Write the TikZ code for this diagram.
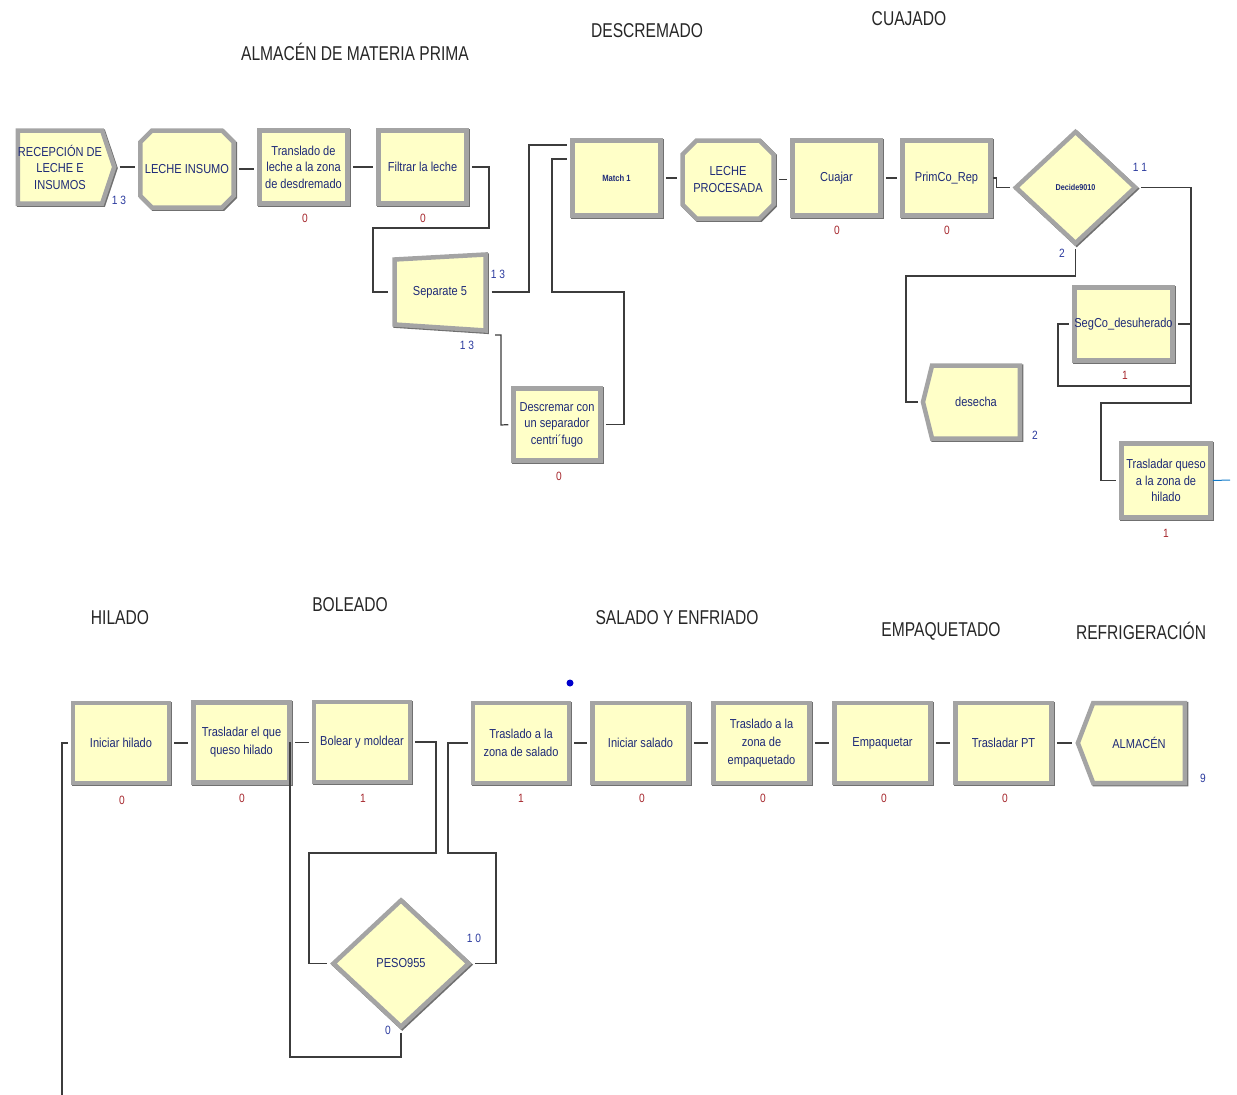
\documentclass[tikz,border=0pt]{standalone}
\usepackage{fontspec}
\setmainfont{Liberation Sans}[FakeStretch=0.85]
\newfontfamily\titlef{Liberation Sans}[FakeStretch=0.78]
\usetikzlibrary{shapes.geometric,shapes.misc,shapes.symbols,calc}
\definecolor{boxy}{HTML}{FFFFC8}
\definecolor{bevel}{HTML}{A4A4A4}
\definecolor{bevdark}{HTML}{707070}
\definecolor{navytxt}{HTML}{1E2A78}
\definecolor{cntred}{HTML}{A5262C}
\definecolor{cntblue}{HTML}{2B3A9E}
\definecolor{wire}{HTML}{3C3C3C}
\begin{document}
\begin{tikzpicture}[x=1pt,y=-1pt,
  mod/.style={fill=boxy, draw=bevel, line width=4.5pt, text=navytxt,
    preaction={draw=bevdark, line width=4.5pt, transform canvas={xshift=1.2pt,yshift=-1.2pt}},
    font=\fontsize{13}{16.5}\selectfont, align=center, inner sep=0pt},
  procT/.style={mod, rectangle, minimum width=88pt, minimum height=73pt},
  procB/.style={mod, rectangle, minimum width=96pt, minimum height=80pt, font=\fontsize{13}{18}\selectfont},
  chamf/.style={mod, chamfered rectangle, chamfered rectangle xsep=7pt, chamfered rectangle ysep=7pt},
  createsh/.style={mod, signal, signal to=east, signal pointer angle=143},
  disposesh/.style={mod, signal, signal to=west},
  decsh/.style={mod, diamond, inner sep=0pt},
  title/.style={font=\titlef\fontsize{20}{24}\selectfont, text=black!85},
  cnt/.style={font=\fontsize{12}{14}\selectfont, inner sep=0pt},
  cr/.style={cnt, text=cntred},
  cb/.style={cnt, text=cntblue},
  conn/.style={draw=wire, line width=1.2pt, shorten >=3pt, shorten <=3pt}]
\useasboundingbox (0,0) rectangle (1237,1095);

% titles
\node[title] (t1) at (355,52) {ALMACÉN DE MATERIA PRIMA};
\node[title] (t2) at (647,31) {DESCREMADO};
\node[title] (t3) at (909,19) {CUAJADO};
\node[title] (t4) at (120,618) {HILADO};
\node[title] (t5) at (350,605) {BOLEADO};
\node[title] (t6) at (677,618) {SALADO Y ENFRIADO};
\node[title] (t7) at (941,631) {EMPAQUETADO};
\node[title] (t8) at (1141,631) {REFRIGERACIÓN};

% top row
\node[createsh, minimum width=90pt, minimum height=73pt] (rec) at (60,167) {RECEPCIÓN DE\\LECHE E\\INSUMOS};
\node[chamf, minimum width=91pt, minimum height=77pt] (insumo) at (187,169) {LECHE INSUMO};
\node[procT] (transl) at (303.5,167) {Translado de\\leche a la zona\\de desdremado};
\node[procT] (filtrar) at (422.5,167) {Filtrar la leche};
\draw[fill=boxy, draw=bevel, line width=4.5pt, line join=miter,
    preaction={draw=bevdark, line width=4.5pt, transform canvas={xshift=1.2pt,yshift=-1.2pt}}]
  (394.5,259.5) -- (485.5,254.5) -- (485.5,330.5) -- (394.5,324.5) -- cycle;
\node[minimum width=97pt, minimum height=76pt, inner sep=0pt, text=navytxt, font=\fontsize{13}{16}\selectfont] (sep) at (440,292) {Separate 5};
\node[procT, minimum width=87pt, minimum height=72pt] (descr) at (557,424.5) {Descremar con\\un separador\\centri´fugo};
\node[procT, minimum height=75pt, font=\bfseries\fontsize{9}{11}\selectfont] (match) at (616.5,178) {Match 1};
\node[chamf, minimum width=91pt, minimum height=78pt] (proces) at (728,179.5) {LECHE\\PROCESADA};
\node[procT, minimum height=75pt] (cuajar) at (836.5,178) {Cuajar};
\node[procT, minimum height=75pt] (prim) at (946.5,178) {PrimCo\_Rep};
\node[decsh, minimum width=121pt, minimum height=113pt, font=\bfseries\fontsize{8.5}{10}\selectfont] (decide) at (1075.5,187.5) {Decide9010};
\node[procT] (segco) at (1123.5,324) {SegCo\_desuherado};
\node[disposesh, signal pointer angle=152, minimum width=97pt, minimum height=73pt] (desecha) at (976,402) {desecha};
\node[procT, minimum width=89pt, minimum height=74pt] (trq) at (1166,480.5) {Trasladar queso\\a la zona de\\hilado};

% bottom row
\node[procB] (ih) at (121,743) {Iniciar hilado};
\node[procB] (tqh) at (241.5,742.5) {Trasladar el que\\queso hilado};
\node[procB] (bol) at (362,742) {Bolear y moldear};
\node[procB] (tsal) at (521,743) {Traslado a la\\zona de salado};
\node[procB] (isal) at (640.5,743) {Iniciar salado};
\node[procB] (temp) at (761.5,743) {Traslado a la\\zona de\\empaquetado};
\node[procB] (emp) at (882.5,743) {Empaquetar};
\node[procB] (tpt) at (1003.5,743) {Trasladar PT};
\node[disposesh, signal pointer angle=138, minimum width=107pt, minimum height=80pt] (alm) at (1139,743) {ALMACÉN};
\node[decsh, minimum width=137pt, minimum height=128pt] (peso) at (401,963.5) {PESO955};

% counters
\node[cb] (c1) at (119,200) {1 3};
\node[cr] (c2) at (305,218) {0};
\node[cr] (c3) at (423,218) {0};
\node[cb] (c4) at (498,274) {1 3};
\node[cb] (c5) at (467,345) {1 3};
\node[cr] (c6) at (559,476) {0};
\node[cr] (c7) at (837,230) {0};
\node[cr] (c8) at (947,230) {0};
\node[cb] (c9) at (1140,167) {1 1};
\node[cb] (c10) at (1062,253) {2};
\node[cr] (c11) at (1125,375) {1};
\node[cb] (c12) at (1035,435) {2};
\node[cr] (c13) at (1166,533) {1};
\node[cr] (c14) at (122,800) {0};
\node[cr] (c15) at (242,798) {0};
\node[cr] (c16) at (363,798) {1};
\node[cr] (c17) at (521,798) {1};
\node[cr] (c18) at (642,798) {0};
\node[cr] (c19) at (763,798) {0};
\node[cr] (c20) at (884,798) {0};
\node[cr] (c21) at (1005,798) {0};
\node[cb] (c22) at (1203,778) {9};
\node[cb] (c23) at (474,938) {1 0};
\node[cb] (c24) at (388,1030) {0};

% blue marker
\fill[blue!80!black] (570,683) circle (3.5);

% connectors top
\draw[conn] (rec.east) -- (rec.east -| insumo.west);
\draw[conn] (insumo.east) -- (insumo.east -| transl.west);
\draw[conn] (transl.east) -- (filtrar.west);
\draw[conn] (filtrar.east) -| (489,228) -- (373,228) |- (sep.west);
\draw[conn] (sep.east) -| (529,145) -- ([yshift=33pt]match.west);
\coordinate (sepout) at (492,335);
\draw[conn] (sepout) -| (501,425) -- (descr.west);
\draw[conn] (descr.east) -| (624,292) -- (552,292) |- ([yshift=19pt]match.west);
\draw[conn] (match.east) -- (match.east -| proces.west);
\draw[conn] (proces.east) -- (proces.east -| cuajar.west);
\draw[conn] (cuajar.east) -- (prim.west);
\draw[conn, shorten <=0pt] (prim.east) -- ++(4,0) |- (decide.west);
\draw[conn] (decide.east) -| (1191,386) -| (1058,324) -- (segco.west);
\draw[conn] (segco.east) -| (1191,403) -- (1101,403) |- (trq.west);
\draw[conn] (decide.south) |- (906,276) |- (desecha.west);
\coordinate (trqout) at (1230,480);
\draw[draw=cyan!60!blue, line width=1pt] (trq.east) -- (trqout);

% connectors bottom
\coordinate (lstart) at (62,1095);
\draw[conn, shorten <=0pt] (lstart) |- (ih.west);
\draw[conn] (ih.east) -- (tqh.west |- ih.east);
\draw[conn] (tqh.east) -- (tqh.east -| bol.west);
\draw[conn, shorten >=0pt] (peso.south) |- (290,1057) -- (290,742);
\draw[conn] (bol.east) -| (436,853) -| (309,963.5) -- (peso.west);
\draw[conn] (peso.east) -| (496,853) -| (448,743) -- (tsal.west);
\draw[conn] (tsal.east) -- (isal.west);
\draw[conn] (isal.east) -- (temp.west);
\draw[conn] (temp.east) -- (emp.west);
\draw[conn] (emp.east) -- (tpt.west);
\draw[conn] (tpt.east) -- (alm.west);
\end{tikzpicture}
\end{document}
